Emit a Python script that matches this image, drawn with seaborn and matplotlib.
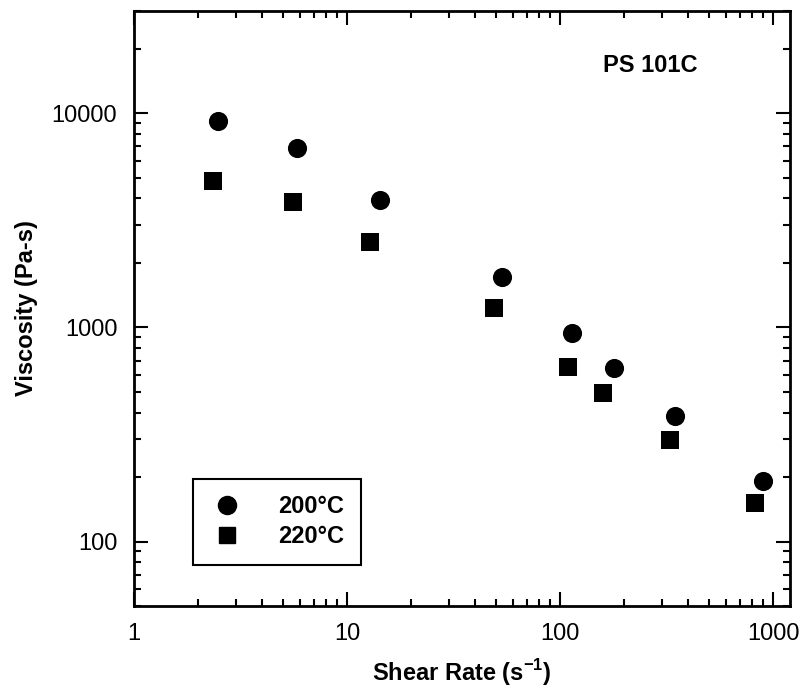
import numpy as np
import pandas as pd
import matplotlib
matplotlib.use("Agg")
import matplotlib.pyplot as plt
import seaborn as sns
from matplotlib.ticker import FixedLocator, FixedFormatter, LogLocator, NullFormatter
from matplotlib.lines import Line2D

# Data
rate_200 = [2.47, 5.84, 14.3, 53.2, 114, 180, 345, 895]
visc_200 = [9180, 6850, 3920, 1714, 938, 646, 387, 191]
rate_220 = [2.36, 5.59, 12.8, 48.8, 109, 159, 327, 819]
visc_220 = [4810, 3840, 2496, 1225, 653, 494, 297, 152]
series_labels = ["200°C", "220°C"]
x_ticks = [1, 10, 100, 1000]
y_ticks = [100, 1000, 10000]

df = pd.DataFrame({
    "rate": rate_200 + rate_220,
    "visc": visc_200 + visc_220,
    "temp": [series_labels[0]] * len(rate_200) + [series_labels[1]] * len(rate_220),
})

sns.set_style("white")
plt.rcParams['font.family'] = ['Liberation Sans', 'DejaVu Sans']
plt.rcParams['text.color'] = 'black'
plt.rcParams['axes.labelcolor'] = 'black'
plt.rcParams['xtick.color'] = 'black'
plt.rcParams['ytick.color'] = 'black'

fig = plt.figure(figsize=(8.09, 6.92), dpi=100)
ax = fig.add_axes([0.1656, 0.1243, 0.8109, 0.8598])

sns.scatterplot(data=df[df.temp == series_labels[0]], x="rate", y="visc",
                marker="o", s=190, color="black", edgecolor="black", linewidth=0, ax=ax, legend=False)
sns.scatterplot(data=df[df.temp == series_labels[1]], x="rate", y="visc",
                marker="s", s=150, color="black", edgecolor="black", linewidth=0, ax=ax, legend=False)

ax.set_xscale("log")
ax.set_yscale("log")
ax.set_xlim(1, 1200)
ax.set_ylim(50, 30000)

ax.xaxis.set_major_locator(FixedLocator(x_ticks))
ax.xaxis.set_major_formatter(FixedFormatter([str(v) for v in x_ticks]))
ax.yaxis.set_major_locator(FixedLocator(y_ticks))
ax.yaxis.set_major_formatter(FixedFormatter([str(v) for v in y_ticks]))
ax.xaxis.set_minor_locator(LogLocator(base=10, subs=np.arange(2, 10), numticks=20))
ax.yaxis.set_minor_locator(LogLocator(base=10, subs=np.arange(2, 10), numticks=20))
ax.xaxis.set_minor_formatter(NullFormatter())
ax.yaxis.set_minor_formatter(NullFormatter())

ax.tick_params(which="both", direction="in", top=True, right=True, bottom=True, left=True,
               color="black", width=1.5)
ax.tick_params(which="major", length=10, labelsize=17, pad=12, labelcolor="black")
ax.tick_params(which="minor", length=5)

for sp in ax.spines.values():
    sp.set_color("black")
    sp.set_linewidth(2)

ax.set_xlabel("Shear Rate (s$^{\\mathregular{-1}}$)", fontsize=17, fontweight="bold", labelpad=9)
ax.set_ylabel("Viscosity (Pa-s)", fontsize=17, fontweight="bold", labelpad=10)

ax.text(0.715, 0.909, "PS 101C", transform=ax.transAxes, fontsize=17, fontweight="bold",
        va="center", ha="left")

handles = [
    Line2D([], [], marker="o", linestyle="none", color="black", markersize=13),
    Line2D([], [], marker="s", linestyle="none", color="black", markersize=11),
]
leg = ax.legend(handles, series_labels, loc="lower left", bbox_to_anchor=(0.09, 0.069),
                frameon=True, fancybox=False, edgecolor="black", framealpha=1,
                prop={"size": 17, "weight": "bold"}, handletextpad=1.4, borderpad=0.7,
                labelspacing=0.3, borderaxespad=0, handlelength=1.5)
leg.get_frame().set_linewidth(1.5)

fig.savefig("out.png", dpi=100)
